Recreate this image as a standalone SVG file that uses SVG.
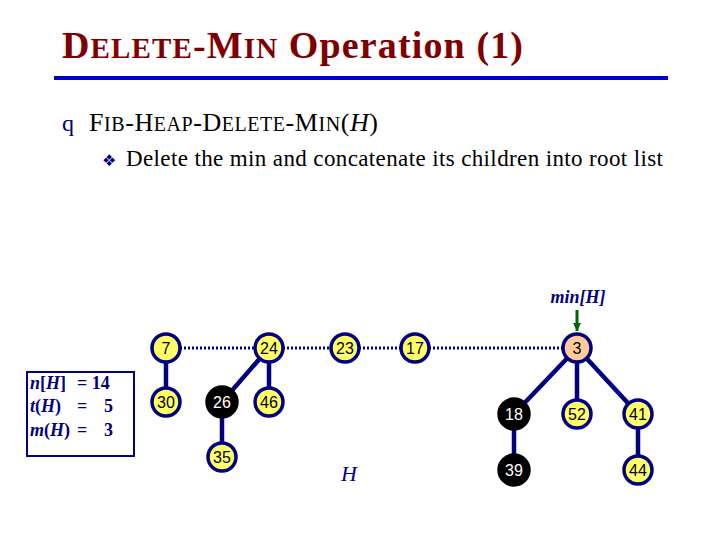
<svg xmlns="http://www.w3.org/2000/svg" width="720" height="540" viewBox="0 0 720 540">
<defs>
<style>
.t{font-family:"Liberation Serif",serif;}
.n circle{stroke:#000080;stroke-width:3.5}
.y circle{fill:#ffff66}
.b circle{fill:#000}
.n text{font-family:"Liberation Sans",Arial,sans-serif;font-size:16px;text-anchor:middle;dominant-baseline:central}
.y text{fill:#000}
.b text{fill:#fff}
.e{stroke:#000080;stroke-width:4.5}
.d{stroke:#000080;stroke-width:3;stroke-dasharray:2 2}
</style>
<marker id="ar" markerWidth="8" markerHeight="8" refX="8" refY="4" orient="auto" markerUnits="userSpaceOnUse"><path d="M0,0 L8,4 L0,8 Z" fill="#006600"/></marker>
</defs>
<rect width="720" height="540" fill="#fff"/>
<text class="t" x="62" y="58" font-size="38" font-weight="bold" fill="#800000" textLength="461" lengthAdjust="spacing">D<tspan font-size="29">ELETE</tspan>-M<tspan font-size="29">IN</tspan> Operation (1)</text>
<rect x="54" y="76" width="614" height="4" fill="#0000cc"/>
<text x="62" y="131" font-family="Liberation Serif,serif" font-size="24" fill="#000080">q</text>
<text class="t" x="89" y="131" font-size="26" fill="#000" textLength="289" lengthAdjust="spacing">F<tspan font-size="20">IB</tspan>-H<tspan font-size="20">EAP</tspan>-D<tspan font-size="20">ELETE</tspan>-M<tspan font-size="20">IN</tspan>(<tspan font-style="italic">H</tspan>)</text>
<text x="102" y="166" font-family="DejaVu Sans,sans-serif" font-size="16" fill="#000080">❖</text>
<text class="t" x="126" y="166" font-size="23" fill="#000" textLength="537" lengthAdjust="spacing">Delete the min and concatenate its children into root list</text>
<text class="t" x="578" y="303" font-size="18" font-weight="bold" font-style="italic" fill="#000080" text-anchor="middle">min[H]</text>
<g id="arrow"><line x1="577" y1="310" x2="577" y2="331" stroke="#006600" stroke-width="3" marker-end="url(#ar)"/></g>
<g id="info">
<rect x="27" y="372" width="107" height="84" fill="none" stroke="#000080" stroke-width="2"/>
<text class="t" x="30" y="389" font-size="18" font-weight="bold" fill="#000080"><tspan font-style="italic">n</tspan>[<tspan font-style="italic">H</tspan>]</text><text class="t" x="77" y="389" font-size="18" font-weight="bold" fill="#000080">= 14</text>
<text class="t" x="30" y="412" font-size="18" font-weight="bold" fill="#000080"><tspan font-style="italic">t</tspan>(<tspan font-style="italic">H</tspan>)</text><text class="t" x="77" y="412" font-size="18" font-weight="bold" fill="#000080">=</text><text class="t" x="104" y="412" font-size="18" font-weight="bold" fill="#000080">5</text>
<text class="t" x="30" y="436" font-size="18" font-weight="bold" fill="#000080"><tspan font-style="italic">m</tspan>(<tspan font-style="italic">H</tspan>)</text><text class="t" x="77" y="436" font-size="18" font-weight="bold" fill="#000080">=</text><text class="t" x="104" y="436" font-size="18" font-weight="bold" fill="#000080">3</text>
</g>
<text class="t" x="349" y="481" font-size="22" font-style="italic" fill="#000080" text-anchor="middle">H</text>
<g id="connectors">
<line class="d" x1="180" y1="348" x2="255" y2="348"/>
<line class="d" x1="283" y1="348" x2="331" y2="348"/>
<line class="d" x1="359" y1="348" x2="401" y2="348"/>
<line class="d" x1="429" y1="348" x2="563" y2="348"/>
<line class="e" x1="166" y1="348" x2="166" y2="402"/>
<line class="e" x1="269" y1="348" x2="222" y2="402"/>
<line class="e" x1="269" y1="348" x2="269" y2="402"/>
<line class="e" x1="222" y1="402" x2="222" y2="457"/>
<line class="e" x1="577" y1="348" x2="514" y2="414"/>
<line class="e" x1="577" y1="348" x2="577" y2="414"/>
<line class="e" x1="577" y1="348" x2="638" y2="414"/>
<line class="e" x1="514" y1="414" x2="514" y2="470"/>
<line class="e" x1="638" y1="414" x2="638" y2="470"/>
</g>
<g id="n7" class="n y"><circle cx="166" cy="348" r="14"/><text x="166" y="348">7</text></g>
<g id="n24" class="n y"><circle cx="269" cy="348" r="14"/><text x="269" y="348">24</text></g>
<g id="n23" class="n y"><circle cx="345" cy="348" r="14"/><text x="345" y="348">23</text></g>
<g id="n17" class="n y"><circle cx="415" cy="348" r="14"/><text x="415" y="348">17</text></g>
<g id="n3" class="n"><circle cx="577" cy="348" r="14" fill="#ffcc99"/><text x="577" y="348" fill="#000">3</text></g>
<g id="n30" class="n y"><circle cx="166" cy="402" r="14"/><text x="166" y="402">30</text></g>
<g id="n26" class="n b"><circle cx="222" cy="402" r="15" style="stroke:#000"/><text x="222" y="402">26</text></g>
<g id="n46" class="n y"><circle cx="269" cy="402" r="14"/><text x="269" y="402">46</text></g>
<g id="n35" class="n y"><circle cx="222" cy="457" r="14"/><text x="222" y="457">35</text></g>
<g id="n18" class="n b"><circle cx="514" cy="414" r="15" style="stroke:#000"/><text x="514" y="414">18</text></g>
<g id="n52" class="n y"><circle cx="577" cy="414" r="14"/><text x="577" y="414">52</text></g>
<g id="n41" class="n y"><circle cx="638" cy="414" r="14"/><text x="638" y="414">41</text></g>
<g id="n39" class="n b"><circle cx="514" cy="470" r="15" style="stroke:#000"/><text x="514" y="470">39</text></g>
<g id="n44" class="n y"><circle cx="638" cy="470" r="14"/><text x="638" y="470">44</text></g>
</svg>
